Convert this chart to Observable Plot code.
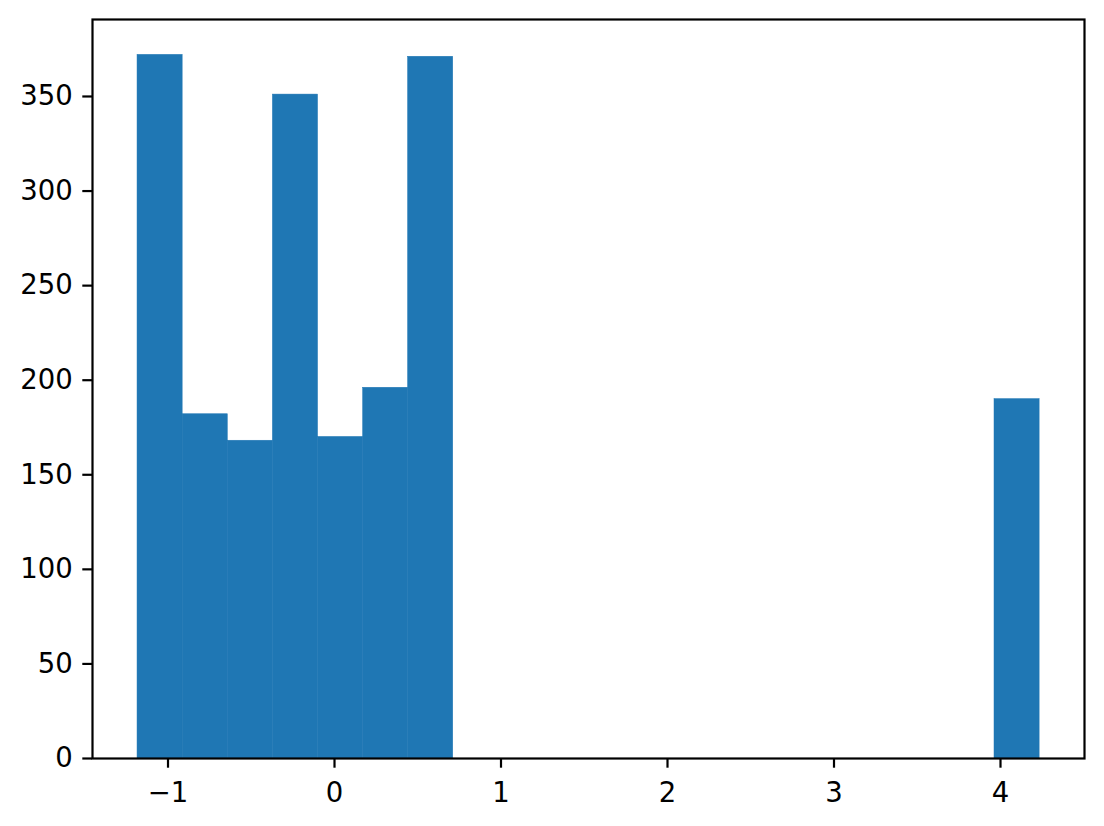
<!DOCTYPE html>
<html>
<head>
<meta charset="utf-8">
<script src="https://cdn.jsdelivr.net/npm/d3@7"></script>
<script src="https://cdn.jsdelivr.net/npm/@observablehq/plot@0.6"></script>
<style>
  html, body { margin: 0; padding: 0; background: #fff; }
  svg text { font-family: "DejaVu Sans", sans-serif; }
</style>
</head>
<body>
<div id="chart"></div>
<script>
// Histogram bin edges (20 bins) and counts
const binEdges = [-1.183, -0.912, -0.641, -0.370, -0.099, 0.172, 0.442, 0.713,
  0.984, 1.255, 1.526, 1.797, 2.068, 2.338, 2.609, 2.880, 3.151, 3.422, 3.693, 3.964, 4.235];
const counts = [372, 182, 168, 351, 170, 196, 371, 0, 0, 0, 0, 0, 0, 0, 0, 0, 0, 0, 0, 190];
const xTicks = [-1, 0, 1, 2, 3, 4];
const yTicks = [0, 50, 100, 150, 200, 250, 300, 350];

const bins = counts.map((c, i) => ({x1: binEdges[i], x2: binEdges[i + 1], count: c}));

const chart = Plot.plot({
  width: 1104,
  height: 826,
  marginLeft: 92,
  marginRight: 20,
  marginTop: 19,
  marginBottom: 68,
  style: "font-family: 'DejaVu Sans', sans-serif; font-size: 27.5px; background: #fff; color: #000;",
  x: {domain: [-1.4535, 4.5045]},
  y: {domain: [0, 390.7]},
  marks: [
    Plot.rectY(bins, {x1: "x1", x2: "x2", y: "count", fill: "#1f77b4", stroke: "#1f77b4", strokeWidth: 0.5}),
    Plot.axisX({ticks: xTicks, tickFormat: d3.format("d"), tickSize: 9.7, tickPadding: 14, strokeWidth: 2.2, fontSize: 27.5, fontFamily: "DejaVu Sans", label: null}),
    Plot.axisY({ticks: yTicks, tickFormat: d3.format("d"), tickSize: 9.7, tickPadding: 10, strokeWidth: 2.2, fontSize: 27.5, fontFamily: "DejaVu Sans", label: null}),
    Plot.frame({stroke: "#000", strokeWidth: 2.2})
  ]
});
document.getElementById("chart").appendChild(chart);
</script>
</body>
</html>
